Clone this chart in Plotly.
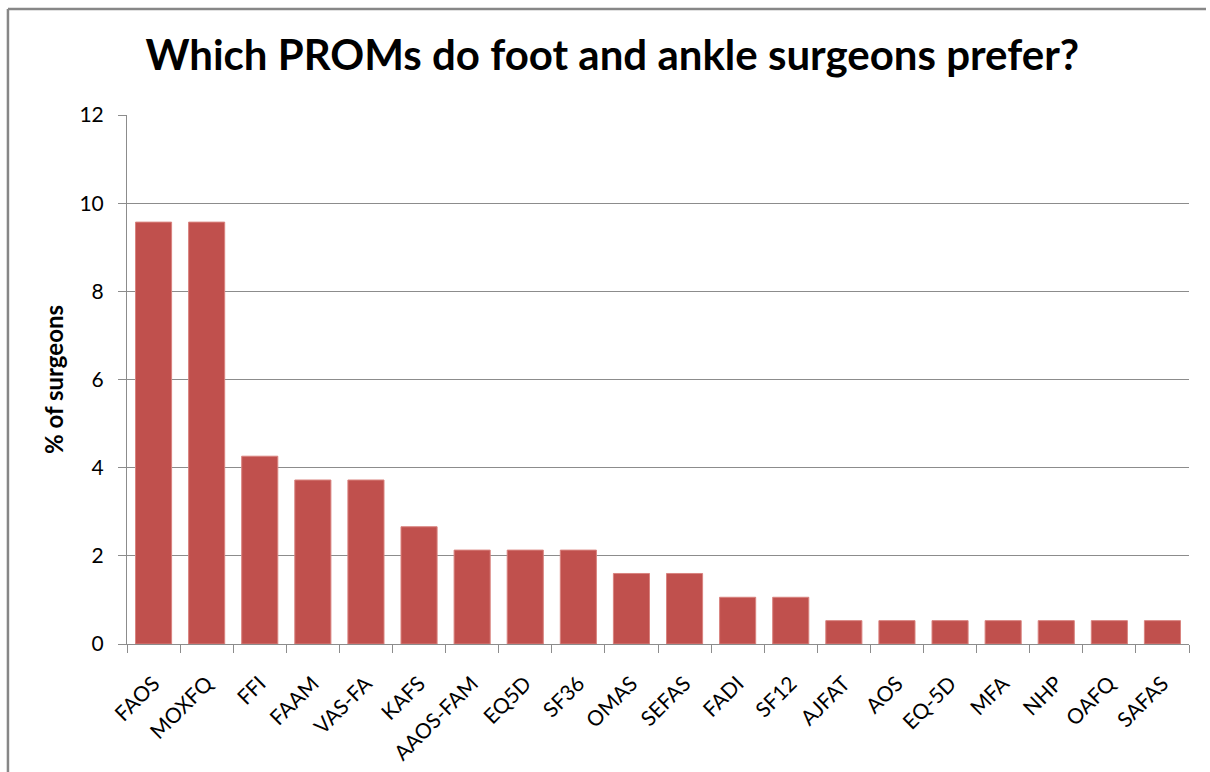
import plotly.graph_objects as go

# Share of surveyed surgeons preferring each PROM (%)
proms = ["FAOS", "MOXFQ", "FFI", "FAAM", "VAS-FA", "KAFS", "AAOS-FAM", "EQ5D", "SF36",
         "OMAS", "SEFAS", "FADI", "SF12", "AJFAT", "AOS", "EQ-5D", "MFA", "NHP", "OAFQ", "SAFAS"]
pct_surgeons = [9.57, 9.57, 4.26, 3.72, 3.72, 2.66, 2.13, 2.13, 2.13,
                1.60, 1.60, 1.06, 1.06, 0.53, 0.53, 0.53, 0.53, 0.53, 0.53, 0.53]
y_ticks = [0, 2, 4, 6, 8, 10, 12]

FONT = "Lato, 'Open Sans', sans-serif"
GRID = "#8c8c8c"
BORDER = "#878787"

fig = go.Figure(
    go.Bar(
        x=proms,
        y=pct_surgeons,
        marker=dict(color="#C0504D", line=dict(color="#D9837F", width=1)),
        hoverinfo="x+y",
    )
)

fig.update_layout(
    width=1210,
    height=772,
    margin=dict(l=127, r=21, t=115, b=128, autoexpand=False),
    paper_bgcolor="white",
    plot_bgcolor="white",
    bargap=0.32,
    showlegend=False,
    font=dict(family=FONT, color="#000000"),
    title=dict(
        text="<b>Which PROMs do foot and ankle surgeons prefer?</b>",
        x=0.506, xanchor="center", xref="container",
        y=0.929, yanchor="middle", yref="container",
        font=dict(family=FONT, size=42, color="#000000"),
        automargin=False,
    ),
    xaxis=dict(
        type="category",
        automargin=False,
        tickangle=-45,
        tickson="boundaries",
        ticks="outside",
        ticklen=8,
        tickcolor=GRID,
        showline=True,
        linecolor=GRID,
        linewidth=1,
        showgrid=False,
        ticklabelstandoff=18,
        tickfont=dict(family=FONT, size=21, color="#000000"),
    ),
    yaxis=dict(
        range=[0, 12],
        automargin=False,
        tickvals=y_ticks,
        ticks="outside",
        ticklen=8,
        tickcolor=GRID,
        showline=True,
        linecolor=GRID,
        linewidth=1,
        showgrid=True,
        gridcolor=GRID,
        gridwidth=1,
        zeroline=False,
        ticklabelstandoff=10,
        tickfont=dict(family=FONT, size=21, color="#000000"),
        title=dict(text="<b>% of surgeons</b>", standoff=9,
                   font=dict(family=FONT, size=24, color="#000000")),
    ),
    shapes=[
        # outer chart frame: left edge and top edge
        dict(type="line", xref="paper", yref="paper",
             x0=-0.1121, x1=-0.1121, y0=-0.3, y1=1.2004,
             line=dict(color=BORDER, width=2.5), layer="below"),
        dict(type="line", xref="paper", yref="paper",
             x0=-0.1121, x1=1.016, y0=1.2004, y1=1.2004,
             line=dict(color=BORDER, width=2.5), layer="below"),
    ],
)

fig.write_html("out.html", config={"displayModeBar": False})
